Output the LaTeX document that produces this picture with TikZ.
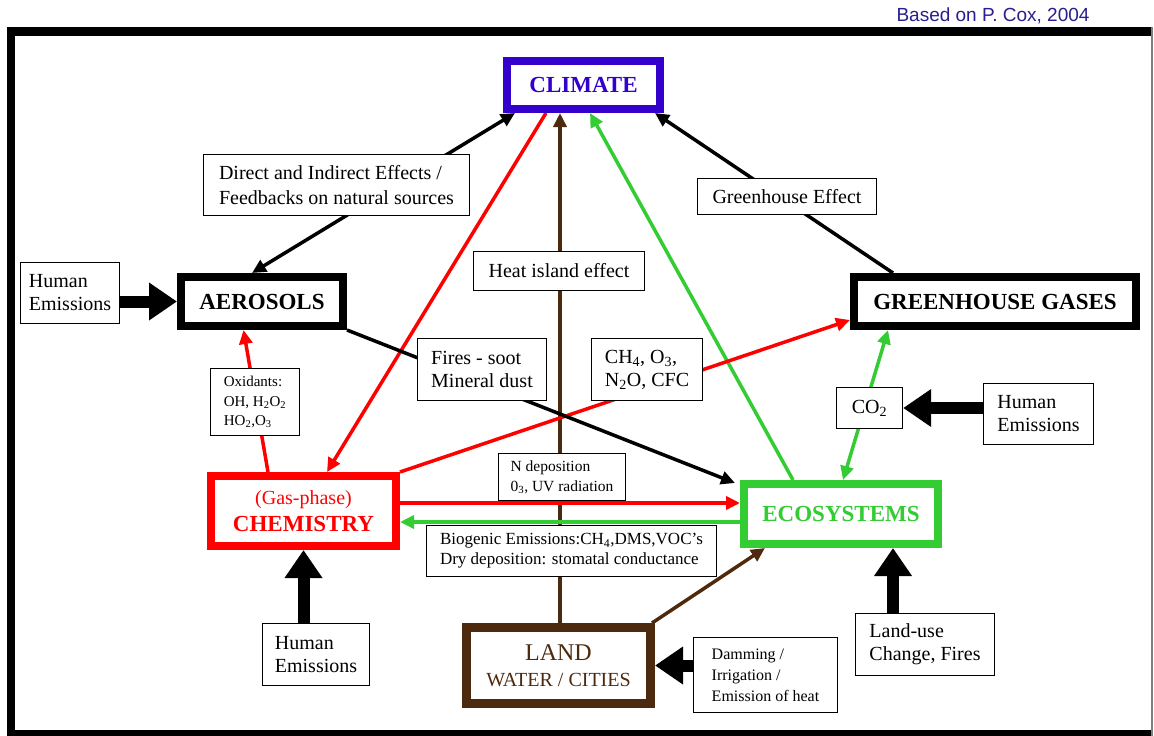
\documentclass[tikz,border=0pt]{standalone}
\usepackage{fontspec}
\setmainfont{Liberation Serif}
\newfontfamily\basedfont{Liberation Sans}
\usetikzlibrary{arrows.meta,calc}
\pgfdeclarelayer{bg}
\pgfsetlayers{bg,main}
\definecolor{climblue}{RGB}{51,0,204}
\definecolor{cred}{RGB}{255,0,0}
\definecolor{cgreen}{RGB}{51,204,51}
\definecolor{cbrown}{RGB}{77,41,13}
\definecolor{cox}{RGB}{40,30,140}
\begin{document}
\begin{tikzpicture}[x=1pt,y=-1pt,
  bigbox/.style={draw, line width=8pt, fill=white, inner sep=0pt, align=center},
  tbox/.style={draw, line width=1.3pt, fill=white, inner sep=0pt, align=left, font=\fontsize{20}{23}\selectfont},
  thinarr/.style={line width=3.5pt, -{Triangle[length=14pt,width=13pt]}},
  thinboth/.style={line width=3.5pt, {Triangle[length=14pt,width=13pt]}-{Triangle[length=14pt,width=13pt]}},
  fatarr/.style={line width=12pt, -{Triangle[length=28pt,width=36pt]}},
  bigfont/.style={font=\fontsize{23}{27}\selectfont\bfseries}
]
\useasboundingbox (0,0) rectangle (1154,736);
% frame
\fill (7,27) rectangle (1152,36);
\fill (7,27) rectangle (15,736);
\fill (7,730) rectangle (1152,736);
\draw[line width=1.5pt, gray] (1152,27) -- (1152,736);
\node[text=cox, font=\basedfont\fontsize{19}{22}\selectfont] (based) at (993,16) {Based on P. Cox, 2004};

% main boxes
\node[bigbox, draw=climblue, text=climblue, bigfont, minimum width=153pt, minimum height=48pt] (climate) at (583.5,85) {CLIMATE};
\node[bigbox, bigfont, minimum width=162pt, minimum height=49pt] (aero) at (262,301.5) {AEROSOLS};
\node[bigbox, bigfont, minimum width=282pt, minimum height=49pt] (ghg) at (995,301.5) {GREENHOUSE GASES};
\node[bigbox, draw=cred, text=cred, font=\fontsize{20}{27}\selectfont, minimum width=185pt, minimum height=70pt] (chem) at (303.5,511)
  {(Gas-phase)\\{\fontsize{23}{27}\selectfont\bfseries CHEMISTRY}};
\node[bigbox, draw=cgreen, text=cgreen, bigfont, minimum width=194pt, minimum height=60pt] (eco) at (841,514) {ECOSYSTEMS};
\node[bigbox, draw=cbrown, text=cbrown, line width=9pt, font=\fontsize{20}{26}\selectfont, minimum width=184pt, minimum height=76pt] (land) at (558.5,665.5)
  {{\fontsize{24}{26}\selectfont LAND}\\WATER / CITIES};

% text boxes
\node[tbox, minimum width=99pt, minimum height=61pt] (hemL) at (70,293) {Human\\Emissions};
\node[tbox, font=\fontsize{20}{25}\selectfont, minimum width=266pt, minimum height=61pt] (direct) at (336.5,185) {Direct and Indirect Effects /\\Feedbacks on natural sources};
\node[tbox, minimum width=179pt, minimum height=36pt] (ghe) at (787,196.5) {Greenhouse Effect};
\node[tbox, minimum width=171pt, minimum height=39pt] (heat) at (559,271) {Heat island effect};
\node[tbox, minimum width=129pt, minimum height=62pt] (fires) at (482,369.5) {Fires - soot\\Mineral dust};
\node[tbox, minimum width=111pt, minimum height=62pt] (ch4) at (647,369.5) {CH\textsubscript{4}, O\textsubscript{3},\\N\textsubscript{2}O, CFC};
\node[tbox, font=\fontsize{15}{19.5}\selectfont, minimum width=89pt, minimum height=67pt] (oxid) at (255,402) {Oxidants:\\OH, H\textsubscript{2}O\textsubscript{2}\\HO\textsubscript{2},O\textsubscript{3}};
\node[tbox, font=\fontsize{15.5}{20}\selectfont, minimum width=127pt, minimum height=47pt] (ndep) at (562,477) {N deposition\\0\textsubscript{3}, UV radiation};
\node[tbox, font=\fontsize{17}{20}\selectfont, minimum width=290pt, minimum height=51pt] (bio) at (571.5,551) {Biogenic Emissions:CH\textsubscript{4},DMS,VOC’s\\Dry deposition: stomatal conductance};
\node[tbox, align=center, minimum width=66pt, minimum height=41pt] (co2) at (869.5,408) {CO\textsubscript{2}};
\node[tbox, minimum width=110pt, minimum height=61pt] (hemR) at (1038.5,414) {Human\\Emissions};
\node[tbox, minimum width=107pt, minimum height=62pt] (hemB) at (316,654.5) {Human\\Emissions};
\node[tbox, font=\fontsize{16}{21}\selectfont, minimum width=144pt, minimum height=75pt] (damming) at (765.5,675) {Damming /\\Irrigation /\\Emission of heat};
\node[tbox, minimum width=139pt, minimum height=62pt] (landuse) at (925,644.5) {Land-use\\Change, Fires};

% thin connectors behind boxes
\begin{pgfonlayer}{bg}
\draw[thinboth] ([xshift=-10pt]aero.north) -- ([xshift=-68.5pt]climate.south);
\draw[thinarr] ([xshift=-102pt]ghg.north) -- ([xshift=-9pt]climate.south east);
\draw[thinarr, cred] ([xshift=-37.5pt]climate.south) -- ([xshift=23.5pt]chem.north);
\draw[thinarr, cbrown] ([xshift=1.5pt]land.north) -- ([xshift=-23.5pt]climate.south);
\draw[thinarr, cgreen] ([xshift=-48pt]eco.north) -- ([xshift=6.5pt]climate.south);
\draw[thinboth, cgreen] ([xshift=2pt]eco.north) -- ([xshift=-107pt]ghg.south);
\draw[thinarr, cred] (chem.north east) -- ([yshift=10pt]ghg.south west);
\draw[thinarr] (aero.south east) -- ([xshift=-5pt,yshift=-3pt]eco.north west);
\draw[thinarr, cred] ([xshift=-35.5pt]chem.north) -- ([xshift=-18.5pt]aero.south);
\draw[thinarr, cred] ([yshift=8pt]chem.east) -- ([yshift=8pt]chem.east -| eco.west);
\draw[thinarr, cgreen] ([yshift=-8pt]eco.west) -- ([yshift=-8pt]eco.west -| chem.east);
\draw[thinarr, cbrown] ([xshift=-3pt]land.north east) -- ([xshift=25pt]eco.south west);
\end{pgfonlayer}

% fat arrows
\draw[fatarr] (aero.west -| hemL.east) -- (aero.west);
\draw[fatarr] (co2.east -| hemR.west) -- (co2.east);
\draw[fatarr] (chem.south |- hemB.north) -- (chem.south);
\draw[fatarr] ([xshift=-32pt]landuse.north) -- ([xshift=-32pt]landuse.north |- eco.south);
\draw[fatarr] (land.east -| damming.west) -- (land.east);
\end{tikzpicture}
\end{document}
